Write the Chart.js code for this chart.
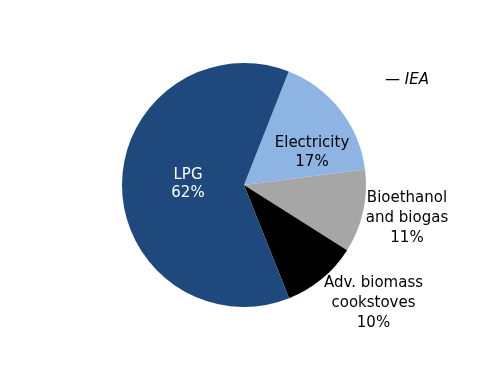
<!DOCTYPE html>
<html><head><meta charset="utf-8">
<script src="https://cdn.jsdelivr.net/npm/chart.js@4/dist/chart.umd.min.js"></script>
<style>html,body{margin:0;padding:0;background:#fff;}#wrap{width:500px;height:386px;position:relative;}</style>
</head><body><div id="wrap"><canvas id="c" width="500" height="386"></canvas></div>
<script>
const categories = ["Electricity", "Bioethanol and biogas", "Adv. biomass cookstoves", "LPG"];
const labelLines = [["Electricity","17%"],["Bioethanol","and biogas","11%"],["Adv. biomass","cookstoves","10%"],["LPG","62%"]];
const values = [17, 11, 10, 62];
const colors = ["#8DB4E2", "#A6A6A6", "#000000", "#1F497D"];
const textColors = ["#000000", "#000000", "#000000", "#FFFFFF"];
const sourceText = "\u2014 IEA";

const labelPlugin = {
  id: 'labels',
  afterDatasetsDraw(chart) {
    const ctx = chart.ctx;
    const meta = chart.getDatasetMeta(0);
    ctx.save();
    ctx.font = '15px "DejaVu Sans"';
    ctx.textAlign = 'center';
    ctx.textBaseline = 'alphabetic';
    // label placement relative to pie centre (first line cap-centre) and line spacing
    const offs = [[68, -43, 18.5], [163, 12, 20], [129.5, 97, 20], [-56, -11.5, 18]];
    const capHalf = 5.4;
    meta.data.forEach((arc, i) => {
      const p = arc.getProps(['x','y'], true);
      const [dx, dy, lh] = offs[i];
      ctx.fillStyle = textColors[i];
      labelLines[i].forEach((t, k) => ctx.fillText(t, p.x + dx, p.y + dy + k * lh + capHalf));
    });
    ctx.font = 'italic 15px "DejaVu Sans"';
    ctx.fillStyle = '#000';
    ctx.textAlign = 'left';
    ctx.fillText(sourceText, 385, 78.5 + capHalf);
    ctx.restore();
  }
};

new Chart(document.getElementById('c'), {
  type: 'pie',
  data: {
    labels: categories,
    datasets: [{ data: values, backgroundColor: colors, borderWidth: 0 }]
  },
  options: {
    responsive: false,
    animation: false,
    rotation: 21.5,
    layout: { padding: { left: 122, right: 134, top: 63, bottom: 79 } },
    plugins: { legend: { display: false }, tooltip: { enabled: false } }
  },
  plugins: [labelPlugin]
});
</script></body></html>
